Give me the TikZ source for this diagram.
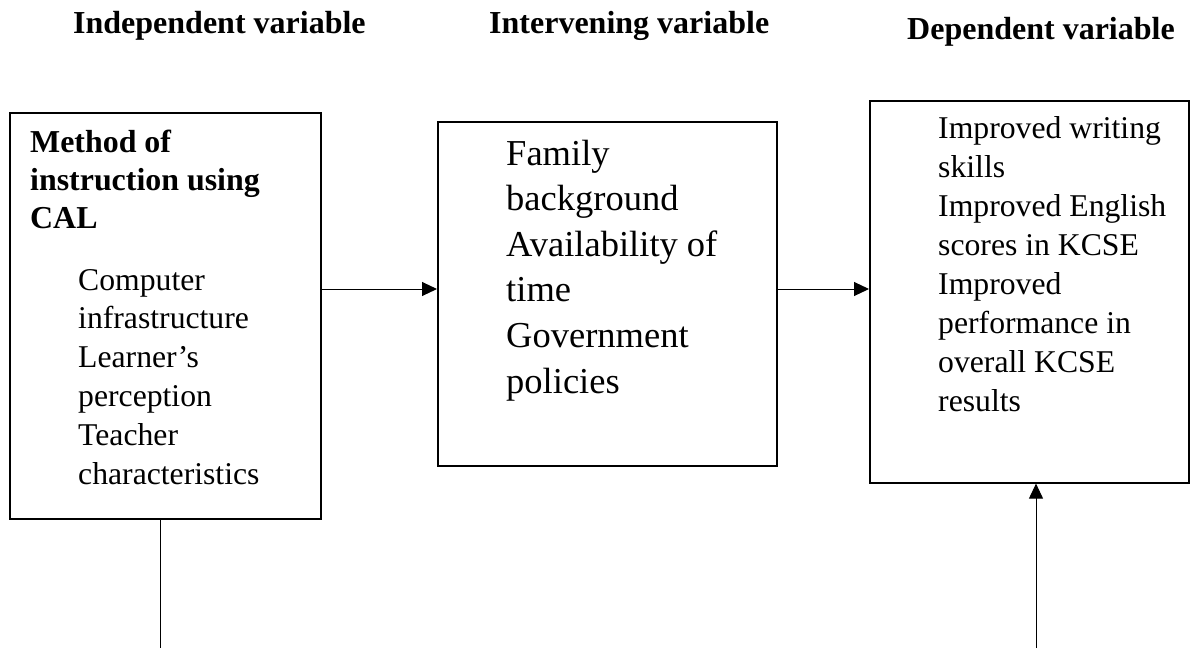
\documentclass[tikz,border=0pt]{standalone}
\usepackage{fontspec}
\setmainfont{Liberation Serif}
\usetikzlibrary{arrows.meta}
\tikzset{
  box/.style={draw, line width=1.6pt, inner sep=0pt, anchor=north west},
  txt/.style={anchor=base west, inner sep=0pt},
  arr/.style={line width=1pt, -{Triangle[length=15pt,width=14pt]}},
  conn/.style={line width=1pt},
  hdr/.style={anchor=base west, inner sep=0pt, font=\fontsize{32}{38}\selectfont\bfseries}
}
\begin{document}
\begin{tikzpicture}[x=1pt,y=-1pt]
\useasboundingbox (0,0) rectangle (1190,648);
% headers
\node[hdr] (h1) at (73,33) {Independent variable};
\node[hdr] (h2) at (489,33) {Intervening variable};
\node[hdr] (h3) at (907,39) {Dependent variable};
% boxes
\node[box, minimum width=311pt, minimum height=406pt] (b1) at (9,112) {};
\node[box, minimum width=339pt, minimum height=344pt] (b2) at (437,121) {};
\node[box, minimum width=319pt, minimum height=382pt] (b3) at (869,100) {};
% texts
\node[txt] (t1a) at (30,152) {\parbox[t]{280pt}{\fontsize{31.9}{38}\selectfont\bfseries Method of\\ instruction using\\ CAL}};
\node[txt] (t1b) at (78,290) {\parbox[t]{240pt}{\fontsize{31.7}{38.9}\selectfont Computer\\ infrastructure\\ Learner’s\\ perception\\ Teacher\\ characteristics}};
\node[txt] (t2) at (506,165) {\parbox[t]{260pt}{\fontsize{36.5}{45.6}\selectfont Family\\ background\\ Availability of\\ time\\ Government\\ policies}};
\node[txt] (t3) at (938,138) {\parbox[t]{250pt}{\fontsize{31.7}{39.1}\selectfont Improved writing\\ skills\\ Improved English\\ scores in KCSE\\ Improved\\ performance in\\ overall KCSE\\ results}};
% connectors
\coordinate (e1) at (160,648);
\coordinate (e2) at (1036,648);
\draw[arr] (b1.east |- 0,289) -- (b2.west |- 0,289);
\draw[arr] (b2.east |- 0,289) -- (b3.west |- 0,289);
\draw[conn] (b1.south -| e1) -- (e1);
\draw[arr] (e2) -- (e2 |- b3.south);
\end{tikzpicture}
\end{document}
